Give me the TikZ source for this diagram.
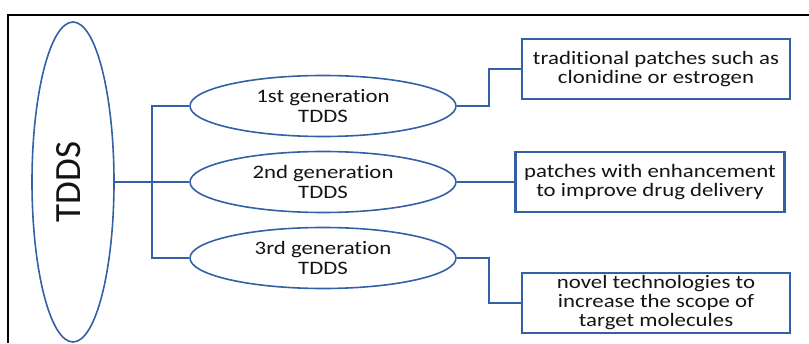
\documentclass[tikz,border=0pt]{standalone}
\usepackage{fontspec}
\setmainfont{Carlito}[FakeStretch=1.2, Ligatures=NoCommon]
\newfontfamily\bigfont{Carlito}
\usepackage{xcolor}
\usepackage{tikz}
\usetikzlibrary{shapes.geometric, positioning}

\definecolor{lineblue}{RGB}{52,96,165}
\definecolor{textdark}{RGB}{20,20,20}

\tikzset{
   gen/.style={ellipse, draw=lineblue, line width=1.6pt, inner sep=0pt,
      minimum width=266pt, minimum height=61pt, align=center,
      text=textdark, font=\fontsize{19}{20.5}\selectfont},
   info/.style={rectangle, draw=lineblue, line width=2.2pt, inner sep=0pt,
      minimum height=60pt, align=center, text=textdark,
      font=\fontsize{19}{19}\selectfont},
   link/.style={draw=lineblue, line width=2pt}
}

\begin{document}
\begin{tikzpicture}[x=1pt, y=1pt]
\useasboundingbox (0,0) rectangle (809,343);

% Frame
\draw[line width=1.6pt] (8,0) -- (8,328) -- (809,328);

% Main ellipse
\node[ellipse, draw=lineblue, line width=1.6pt, inner sep=0pt,
   minimum width=82pt, minimum height=320pt] (tdds) at (73,161) {};
\node[rotate=90, text=textdark, font=\bigfont\fontsize{37}{40}\selectfont] (tddslabel) at (69,161) {TDDS};

% Generations
\node[gen] (gen1) at (323,237) {1st generation\\TDDS};
\node[gen] (gen2) at (323,161) {2nd generation\\TDDS};
\node[gen] (gen3) at (323,85) {3rd generation\\TDDS};

% Descriptions
\node[info, minimum width=268pt] (box1) at (656,274) {traditional patches such as\\clonidine or estrogen};
\node[info, minimum width=269pt] (box2) at (650,161) {patches with enhancement\\to improve drug delivery};
\node[info, minimum width=268pt] (box3) at (656,40) {novel technologies to\\increase the scope of\\target molecules};

% Connectors
\coordinate (fork) at (152,161);
\coordinate (bend1) at (489,274);
\coordinate (bend3) at (489,40);
\draw[link] (tdds.east) -- (gen2.west);
\draw[link] (gen1.west) -| (fork) |- (gen3.west);
\draw[link] (gen1.east) -| (bend1) -- (box1.west);
\draw[link] (gen2.east) -- (box2.west);
\draw[link] (gen3.east) -| (bend3) -- (box3.west);
\end{tikzpicture}
\end{document}
